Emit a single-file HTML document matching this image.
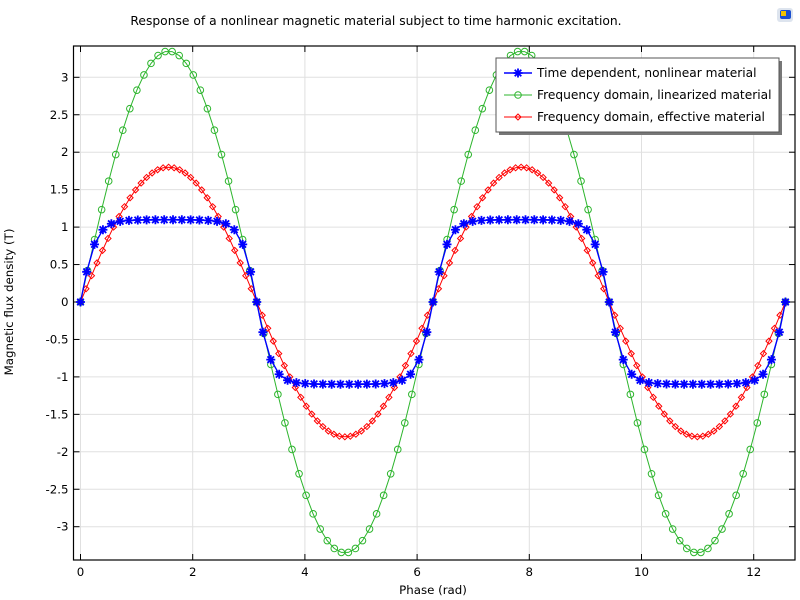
<!DOCTYPE html>
<html><head><meta charset="utf-8"><style>
body{margin:0;background:#fff;}
svg{display:block;font-family:"DejaVu Sans","Liberation Sans",sans-serif;}
</style></head><body>
<svg id="s" width="800" height="600" xmlns="http://www.w3.org/2000/svg"></svg>
<script>
const s=document.getElementById('s');
const X0=80.5,SX=56.1,Y0=302,SY=74.9;
const L=73.5,R=795,T=46,B=560;
const px=x=>X0+x*SX, py=y=>Y0-y*SY;
let h='';
h+=`<text x="376" y="25" font-size="12.3" text-anchor="middle" fill="#000">Response of a nonlinear magnetic material subject to time harmonic excitation.</text>`;
h+=`<rect x="777" y="8" width="16" height="14" rx="3" fill="#dde4ee"/><rect x="780" y="10" width="11" height="9" rx="2" fill="#1a4fd0"/><rect x="781" y="11" width="5" height="5" fill="#f2c200"/>`;
for(let v=-3;v<=3.001;v+=0.5){const y=py(v);h+=`<line x1="${L}" x2="${R}" y1="${y}" y2="${y}" stroke="#e0e0e0"/>`;
h+=`<line x1="${L}" x2="${L+6}" y1="${y}" y2="${y}" stroke="#000"/><line x1="${R-6}" x2="${R}" y1="${y}" y2="${y}" stroke="#000"/>`;
h+=`<text x="${L-5}" y="${y+4}" font-size="11.8" text-anchor="end">${Math.abs(v)<1e-9?'0':(+v.toFixed(1)).toString()}</text>`;}
for(let v=0;v<=12;v+=2){const x=px(v);h+=`<line x1="${x}" x2="${x}" y1="${T}" y2="${B}" stroke="#e0e0e0"/>`;
h+=`<line x1="${x}" x2="${x}" y1="${B-6}" y2="${B}" stroke="#000"/><line x1="${x}" x2="${x}" y1="${T}" y2="${T+6}" stroke="#000"/>`;
h+=`<text x="${x}" y="${B+16}" font-size="11.8" text-anchor="middle">${v}</text>`;}
h+=`<rect x="${L}" y="${T}" width="${R-L}" height="${B-T}" fill="none" stroke="#000" stroke-width="1.2"/>`;
h+=`<text x="433" y="594" font-size="11.8" text-anchor="middle">Phase (rad)</text>`;
h+=`<text transform="translate(13,302) rotate(-90)" font-size="11.8" text-anchor="middle">Magnetic flux density (T)</text>`;
const P=4*Math.PI;
function series(f,n,col,mk){let pts=[];for(let i=0;i<=n;i++){const t=P*i/n;pts.push([px(t),py(f(t))]);}
let d='M'+pts.map(p=>p[0].toFixed(1)+','+p[1].toFixed(1)).join('L');
h+=`<path d="${d}" fill="none" stroke="${col}" stroke-width="1"/>`;pts.forEach(p=>h+=mk(p[0],p[1]));}
const circ=c=>(x,y)=>`<circle cx="${x}" cy="${y}" r="3.3" fill="none" stroke="${c}" stroke-width="1"/>`;
const dia=c=>(x,y)=>`<path d="M${x},${y-3}L${x+3},${y}L${x},${y+3}L${x-3},${y}Z" fill="none" stroke="${c}" stroke-width="1"/>`;
const star=c=>(x,y)=>`<path d="M${x-4.5},${y}H${x+4.5}M${x},${y-4.5}V${y+4.5}M${x-3.3},${y-3.3}L${x+3.3},${y+3.3}M${x-3.3},${y+3.3}L${x+3.3},${y-3.3}" stroke="${c}" stroke-width="1.8"/>`;
series(t=>3.35*Math.sin(t),100,'#2db52d',circ('#2db52d'));
series(t=>1.8*Math.sin(t),128,'#ff0000',dia('#ff0000'));
const bf=t=>1.1*Math.tanh(3.35*Math.sin(t)/1.1*1.15);
let bt=[];for(let k=0;k<4;k++){const a=k*Math.PI;[0,0.11,0.25,0.4].forEach(o=>bt.push(a+o));for(let t=0.55;t<Math.PI-0.5;t+=0.157)bt.push(a+t);[0.4,0.25,0.11].forEach(o=>bt.push(a+Math.PI-o));}
bt.push(P);
{let pts=bt.map(t=>[px(t),py(bf(t))]);h+=`<path d="M${pts.map(p=>p[0].toFixed(1)+','+p[1].toFixed(1)).join('L')}" fill="none" stroke="#0000ff" stroke-width="1.4"/>`;pts.forEach(p=>h+=star('#0000ff')(p[0],p[1]));}
h+=`<rect x="499" y="61" width="283" height="74" fill="#777"/><rect x="496" y="58" width="283" height="74" fill="#fff" stroke="#555"/>`;
const lg=[['Time dependent, nonlinear material','#0000ff',star,1.4],['Frequency domain, linearized material','#2db52d',circ,1],['Frequency domain, effective material','#ff0000',dia,1]];
lg.forEach((e,i)=>{const y=73+i*22;h+=`<line x1="504" x2="532" y1="${y}" y2="${y}" stroke="${e[1]}" stroke-width="${e[3]}"/>`+e[2](e[1])(518,y)+`<text x="537" y="${y+4}" font-size="12.2">${e[0]}</text>`;});
s.innerHTML=h;
</script>
</body></html>
